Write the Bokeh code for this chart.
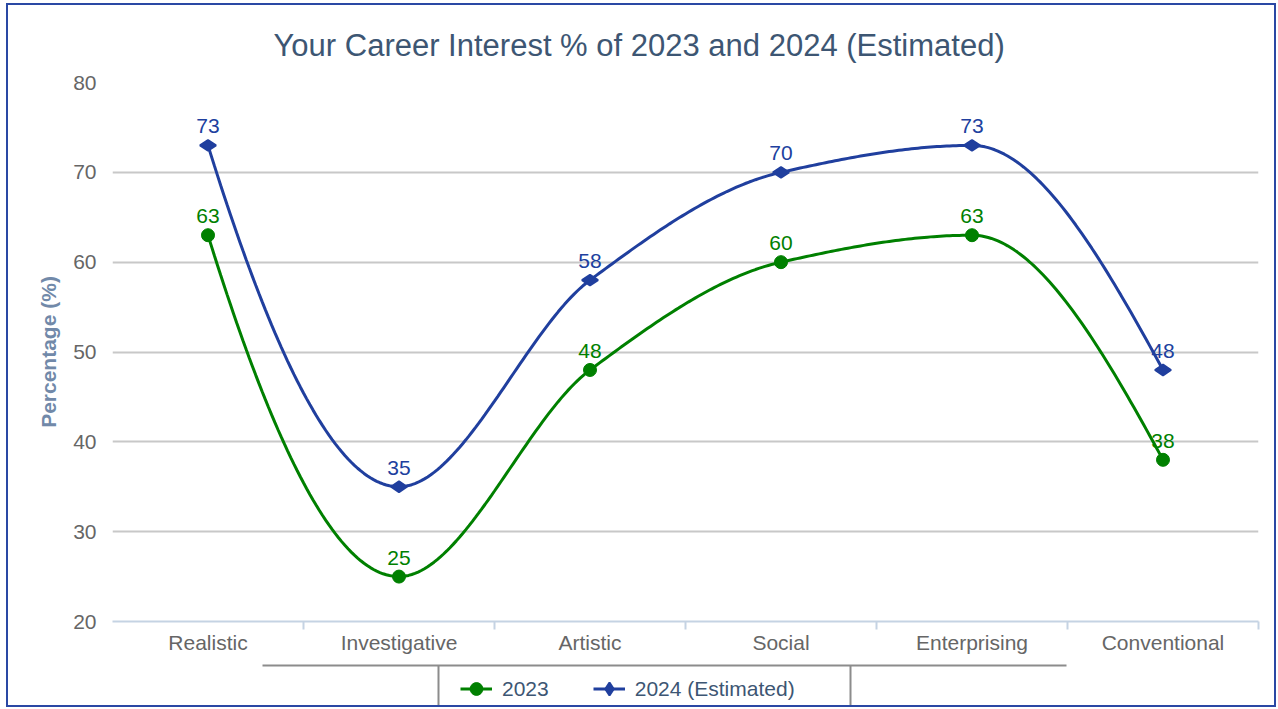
import numpy as np
from bokeh.plotting import figure
from bokeh.layouts import column
from bokeh.models import (Range1d, FixedTicker, Legend, LegendItem, ColumnDataSource, PolyAnnotation)
from bokeh.core.properties import value
from bokeh.embed import file_html
from bokeh.resources import INLINE

# ---- data ----
categories = ["Realistic", "Investigative", "Artistic", "Social", "Enterprising", "Conventional"]
series_2023 = [63, 25, 48, 60, 63, 38]
series_2024 = [73, 35, 58, 70, 73, 48]
y_ticks = [20, 30, 40, 50, 60, 70, 80]
name_2023 = "2023"
name_2024 = "2024 (Estimated)"
title_text = "Your Career Interest % of 2023 and 2024 (Estimated)"
y_label = "Percentage (%)"

GREEN = "#008000"
BLUE = "#203f9e"
FONT = "Liberation Sans"
BOXGRAY = "#8c8c8c"

xc = [i + 0.5 for i in range(len(categories))]


def pchip(x, y, n=60):
    x = np.asarray(x, float)
    y = np.asarray(y, float)
    h = np.diff(x)
    d = np.diff(y) / h
    m = np.zeros_like(y)
    for k in range(1, len(y) - 1):
        if d[k - 1] * d[k] > 0:
            w1 = 2 * h[k] + h[k - 1]
            w2 = h[k] + 2 * h[k - 1]
            m[k] = (w1 + w2) / (w1 / d[k - 1] + w2 / d[k])

    def end(h0, h1, d0, d1):
        mm = ((2 * h0 + h1) * d0 - h0 * d1) / (h0 + h1)
        if np.sign(mm) != np.sign(d0):
            mm = 0.0
        elif np.sign(d0) != np.sign(d1) and abs(mm) > abs(3 * d0):
            mm = 3 * d0
        return mm

    m[0] = end(h[0], h[1], d[0], d[1])
    m[-1] = end(h[-1], h[-2], d[-1], d[-2])
    xs, ys = [], []
    for k in range(len(h)):
        t = np.linspace(0, 1, n, endpoint=(k == len(h) - 1))
        h00 = 2 * t**3 - 3 * t**2 + 1
        h10 = t**3 - 2 * t**2 + t
        h01 = -2 * t**3 + 3 * t**2
        h11 = t**3 - t**2
        xs.extend(x[k] + t * h[k])
        ys.extend(h00 * y[k] + h10 * h[k] * m[k] + h01 * y[k + 1] + h11 * h[k] * m[k + 1])
    return xs, ys


sx1, sy1 = pchip(xc, series_2023)
sx2, sy2 = pchip(xc, series_2024)

# ---------------- main chart ----------------
p = figure(width=1266, height=655, output_backend="svg", toolbar_location=None,
           x_range=Range1d(0, len(categories)), y_range=Range1d(20, 80),
           min_border_left=104, min_border_right=16, min_border_top=77, min_border_bottom=39)
p.outline_line_color = None

p.title.text = title_text
p.title.align = "left"
p.title.offset = 161
p.title.text_font = FONT
p.title.text_font_size = "31px"
p.title.text_font_style = "normal"
p.title.text_color = "#3d5673"
p.title.standoff = 40

xa = p.xaxis[0]
xa.ticker = FixedTicker(ticks=xc, minor_ticks=[i + 1 for i in range(len(categories))])
xa.major_label_overrides = {c: lab for c, lab in zip(xc, categories)}
xa.major_tick_out = 0
xa.major_tick_in = 0
xa.minor_tick_out = 8
xa.minor_tick_in = 0
xa.minor_tick_line_color = "#c5d3e3"
xa.minor_tick_line_width = 2
xa.axis_line_color = "#c5d3e3"
xa.axis_line_width = 2
xa.major_label_text_font = FONT
xa.major_label_text_font_size = "21px"
xa.major_label_text_color = "#666666"
xa.major_label_standoff = 1

ya = p.yaxis[0]
ya.ticker = FixedTicker(ticks=y_ticks)
ya.axis_line_color = None
ya.major_tick_line_color = None
ya.minor_tick_line_color = None
ya.major_tick_out = 0
ya.major_tick_in = 0
ya.minor_tick_out = 0
ya.minor_tick_in = 0
ya.major_label_text_font = FONT
ya.major_label_text_font_size = "21px"
ya.major_label_text_color = "#666666"
ya.major_label_standoff = 16
ya.axis_label = y_label
ya.axis_label_text_font = FONT
ya.axis_label_text_font_size = "21px"
ya.axis_label_text_font_style = "bold"
ya.axis_label_text_color = "#7189a9"
ya.axis_label_standoff = 10

p.xgrid.grid_line_color = None
p.ygrid.grid_line_color = "#c8c8c8"
p.ygrid.grid_line_width = 2

p.line(sx1, sy1, line_color=GREEN, line_width=3)
p.line(sx2, sy2, line_color=BLUE, line_width=3)

src1 = ColumnDataSource(dict(x=xc, y=series_2023, t=[str(v) for v in series_2023]))
src2 = ColumnDataSource(dict(x=xc, y=series_2024, t=[str(v) for v in series_2024]))
p.scatter("x", "y", source=src1, marker="circle", size=13, fill_color=GREEN, line_color=GREEN)
p.scatter("x", "y", source=src2, marker="diamond", size=16, angle=np.pi / 2,
          fill_color=BLUE, line_color=BLUE, line_width=2)

for src, col in ((src1, GREEN), (src2, BLUE)):
    p.text("x", "y", text="t", source=src, text_color=col, text_font=value(FONT),
           text_font_size="21px", text_align="center", text_baseline="alphabetic", y_offset=-19)

# ---------------- legend strip ----------------
p2 = figure(width=1266, height=45, output_backend="svg", toolbar_location=None,
            x_axis_type=None, y_axis_type=None,
            x_range=Range1d(-20, -10), y_range=Range1d(20, 80),
            min_border=0)
p2.outline_line_color = None
g1 = p2.line(sx1, sy1, line_color=GREEN, line_width=3)
g2 = p2.line(sx2, sy2, line_color=BLUE, line_width=3)
k1 = p2.scatter(xc, series_2023, marker="circle", size=13, fill_color=GREEN, line_color=GREEN)
k2 = p2.scatter(xc, series_2024, marker="diamond", size=16, angle=np.pi / 2,
                fill_color=BLUE, line_color=BLUE, line_width=2)

# decorative frame lines of the legend area (screen units, frame-relative)
for xs, ys in (([150, 954], [40, 40]), ([326, 326], [40, -20]), ([738, 738], [40, -20])):
    p2.add_layout(PolyAnnotation(xs=xs, ys=ys, xs_units="screen", ys_units="screen",
                                 fill_alpha=0, line_color=BOXGRAY, line_alpha=1.0, line_width=2))

legend = Legend(items=[LegendItem(label=name_2023, renderers=[g1, k1]),
                       LegendItem(label=name_2024, renderers=[g2, k2])],
                orientation="horizontal", location=(348, 0),
                label_text_font=FONT, label_text_font_size="21px", label_text_color="#3d5673",
                glyph_width=32, glyph_height=33, label_height=24, label_standoff=10,
                spacing=44, padding=12,
                border_line_color=None, background_fill_alpha=0, margin=0)
p2.add_layout(legend, "center")

layout = column(p, p2, styles={"border": "2px solid #2a48a4", "margin-left": "6px",
                                "margin-top": "3px"})

open("out.html", "w").write(file_html(layout, INLINE))
